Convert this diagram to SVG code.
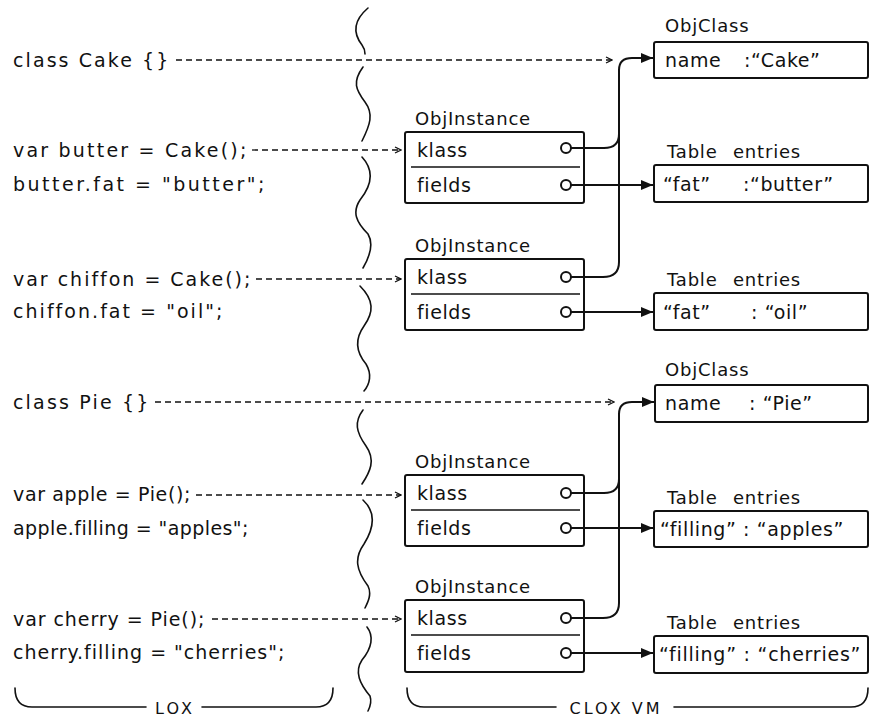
<svg xmlns="http://www.w3.org/2000/svg" width="875" height="720" viewBox="0 0 875 720">
<style>
.t{font-family:"DejaVu Sans","Liberation Sans",sans-serif;font-size:19px;fill:#111;letter-spacing:0.6px}
.l{font-family:"DejaVu Sans","Liberation Sans",sans-serif;font-size:18px;fill:#111;letter-spacing:0.8px}
.cap{font-family:"DejaVu Sans","Liberation Sans",sans-serif;font-size:16px;fill:#111;letter-spacing:3px}
.box{fill:#fff;stroke:#111;stroke-width:2}
.div{stroke:#111;stroke-width:1.5}
.dash{fill:none;stroke:#111;stroke-width:1.3;stroke-dasharray:6 4;marker-end:url(#open)}
.conn{fill:none;stroke:#111;stroke-width:2}
.arr{marker-end:url(#filled)}
.dot{fill:#fff;stroke:#111;stroke-width:2}
.wave{fill:none;stroke:#111;stroke-width:1.6;stroke-linecap:round}
.brace{fill:none;stroke:#111;stroke-width:1.6;stroke-linecap:round}
</style>
<defs>
<marker id="filled" markerUnits="userSpaceOnUse" viewBox="0 0 12 10" refX="12" refY="5" markerWidth="12" markerHeight="10" orient="auto"><path d="M0,0 L12,5 L0,10 z" fill="#111"/></marker>
<marker id="open" markerUnits="userSpaceOnUse" viewBox="0 0 8 8" refX="7" refY="4" markerWidth="8" markerHeight="8" orient="auto"><path d="M1,1 L7,4 L1,7" fill="none" stroke="#111" stroke-width="1.3"/></marker>
</defs>

<g id="lox-code">
<text class="t" x="13" y="67" textLength="156" lengthAdjust="spacing">class Cake {}</text>
<text class="t" x="13" y="157" textLength="234" lengthAdjust="spacing">var butter = Cake();</text>
<text class="t" x="13" y="191" textLength="252" lengthAdjust="spacing">butter.fat = "butter";</text>
<text class="t" x="13" y="286" textLength="238" lengthAdjust="spacing">var chiffon = Cake();</text>
<text class="t" x="13" y="318" textLength="210" lengthAdjust="spacing">chiffon.fat = "oil";</text>
<text class="t" x="13" y="409" textLength="136" lengthAdjust="spacing">class Pie {}</text>
<text class="t" x="13" y="501" textLength="178" lengthAdjust="spacing">var apple = Pie();</text>
<text class="t" x="13" y="535" textLength="236" lengthAdjust="spacing">apple.filling = "apples";</text>
<text class="t" x="13" y="626" textLength="192" lengthAdjust="spacing">var cherry = Pie();</text>
<text class="t" x="13" y="659" textLength="272" lengthAdjust="spacing">cherry.filling = "cherries";</text>
</g>

<g id="divider">
<path class="wave" d="M368,8 C354,20 352,32 362,45 C365,49 365,52 365,54"/>
<path class="wave" d="M363,67 C352,82 356,90 365,102 C374,114 370,125 362,141"/>
<path class="wave" d="M362,157 C374,170 372,185 360,200 C352,212 356,222 368,234 C374,244 370,256 363,268"/>
<path class="wave" d="M360,286 C374,300 374,312 364,326 C354,340 356,352 366,364 C372,374 370,384 364,391"/>
<path class="wave" d="M363,410 C354,422 356,432 366,446 C376,460 370,472 362,484"/>
<path class="wave" d="M363,500 C376,512 374,528 364,544 C354,558 356,570 368,586 C372,594 368,602 365,608"/>
<path class="wave" d="M367,627 C374,636 372,648 362,660 C354,672 360,684 370,696 C372,702 370,707 368,711"/>
</g>

<g id="cake-class">
<text class="l" x="665" y="32">ObjClass</text>
<rect class="box" x="654" y="42" width="214" height="36" rx="2"/>
<text class="t" x="665" y="67">name</text>
<text class="t" x="744" y="67">:“Cake”</text>
</g>

<g id="butter-instance">
<text class="l" x="415" y="125">ObjInstance</text>
<rect class="box" x="405" y="132" width="179" height="71" rx="2"/>
<line class="div" x1="411" y1="167" x2="580" y2="167"/>
<text class="t" x="417" y="157">klass</text>
<text class="t" x="417" y="192">fields</text>
</g>

<g id="butter-table">
<text class="l" x="667" y="158">Table <tspan x="733">entries</tspan></text>
<rect class="box" x="654" y="165" width="214" height="37" rx="2"/>
<text class="t" x="663" y="191">“fat”</text>
<text class="t" x="743" y="191">:“butter”</text>
</g>

<g id="chiffon-instance">
<text class="l" x="415" y="252">ObjInstance</text>
<rect class="box" x="405" y="259" width="179" height="71" rx="2"/>
<line class="div" x1="411" y1="294" x2="580" y2="294"/>
<text class="t" x="417" y="284">klass</text>
<text class="t" x="417" y="319">fields</text>
</g>

<g id="chiffon-table">
<text class="l" x="667" y="286">Table <tspan x="733">entries</tspan></text>
<rect class="box" x="654" y="293" width="214" height="37" rx="2"/>
<text class="t" x="663" y="319">“fat”</text>
<text class="t" x="751" y="319">: “oil”</text>
</g>

<g id="pie-class">
<text class="l" x="665" y="376">ObjClass</text>
<rect class="box" x="655" y="385" width="213" height="37" rx="2"/>
<text class="t" x="665" y="410">name</text>
<text class="t" x="749" y="410">: “Pie”</text>
</g>

<g id="apple-instance">
<text class="l" x="415" y="468">ObjInstance</text>
<rect class="box" x="405" y="475" width="179" height="71" rx="2"/>
<line class="div" x1="411" y1="510" x2="580" y2="510"/>
<text class="t" x="417" y="500">klass</text>
<text class="t" x="417" y="535">fields</text>
</g>

<g id="apple-table">
<text class="l" x="667" y="504">Table <tspan x="733">entries</tspan></text>
<rect class="box" x="654" y="511" width="214" height="36" rx="2"/>
<text class="t" x="660" y="536" textLength="184" lengthAdjust="spacing">“filling” : “apples”</text>
</g>

<g id="cherry-instance">
<text class="l" x="415" y="593">ObjInstance</text>
<rect class="box" x="405" y="600" width="179" height="72" rx="2"/>
<line class="div" x1="411" y1="635" x2="580" y2="635"/>
<text class="t" x="417" y="625">klass</text>
<text class="t" x="417" y="660">fields</text>
</g>

<g id="cherry-table">
<text class="l" x="667" y="629">Table <tspan x="733">entries</tspan></text>
<rect class="box" x="654" y="636" width="214" height="37" rx="2"/>
<text class="t" x="659" y="661" textLength="202" lengthAdjust="spacing">“filling” : “cherries”</text>
</g>

<g id="connectors">
<path class="dash" d="M176,60 H612"/>
<path class="dash" d="M252,150 H401"/>
<path class="dash" d="M256,279 H401"/>
<path class="dash" d="M155,402 H614"/>
<path class="dash" d="M196,495 H401"/>
<path class="dash" d="M212,619 H401"/>

<path class="conn arr" d="M571,277 H603 C613,277 619,272 619,262 V70 C619,62 624,58 632,58 H653"/>
<path class="conn" d="M571,148 H604 C614,148 619,143 619,134"/>
<path class="conn arr" d="M571,185 H653"/>
<path class="conn arr" d="M571,312 H653"/>

<path class="conn arr" d="M571,618 H603 C613,618 619,613 619,603 V414 C619,406 624,402 632,402 H654"/>
<path class="conn" d="M571,493 H604 C614,493 619,488 619,479"/>
<path class="conn arr" d="M571,528 H653"/>
<path class="conn arr" d="M571,653 H653"/>

<circle class="dot" cx="566" cy="148" r="5"/>
<circle class="dot" cx="566" cy="185" r="5"/>
<circle class="dot" cx="566" cy="277" r="5"/>
<circle class="dot" cx="566" cy="312" r="5"/>
<circle class="dot" cx="566" cy="493" r="5"/>
<circle class="dot" cx="566" cy="528" r="5"/>
<circle class="dot" cx="566" cy="618" r="5"/>
<circle class="dot" cx="566" cy="653" r="5"/>
</g>

<g id="braces">
<path class="brace" d="M15,688 C15,700 20,707 32,707 H146"/>
<path class="brace" d="M202,707 H316 C328,707 333,700 333,688"/>
<text class="cap" x="175" y="714" text-anchor="middle">LOX</text>
<path class="brace" d="M407,688 C407,700 412,707 424,707 H556"/>
<path class="brace" d="M674,707 H851 C863,707 868,700 868,688"/>
<text class="cap" x="616" y="714" text-anchor="middle">CLOX VM</text>
</g>
</svg>
